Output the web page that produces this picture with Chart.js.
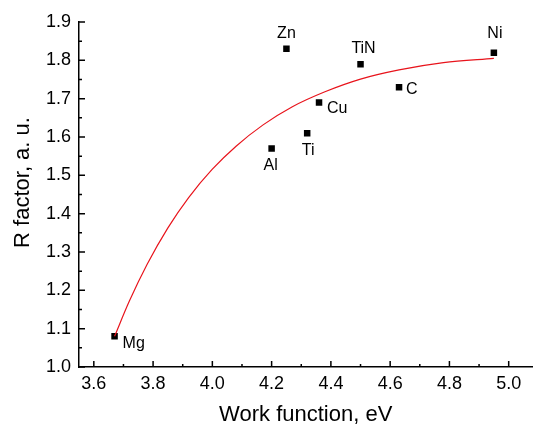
<!DOCTYPE html>
<html>
<head>
<meta charset="utf-8">
<script src="https://cdn.jsdelivr.net/npm/chart.js@4"></script>
<style>
  html, body { margin: 0; padding: 0; background: #fff; }
  #wrap { width: 537px; height: 426px; }
</style>
</head>
<body>
<div id="wrap"><canvas id="rChart" width="537" height="426"></canvas></div>
<script>
const metals = ['Mg', 'Al', 'Ti', 'Cu', 'Zn', 'TiN', 'C', 'Ni'];
const workFunction = [3.67, 4.20, 4.32, 4.36, 4.25, 4.50, 4.63, 4.95];
const rFactor = [1.08, 1.57, 1.61, 1.69, 1.83, 1.79, 1.73, 1.82];

// fitted curve
const fitWork = [3.67, 3.72, 3.78, 3.85, 3.92, 4.00, 4.08, 4.17, 4.27, 4.38, 4.50, 4.63, 4.78, 4.95];
const fitR = [1.08, 1.172, 1.268, 1.363, 1.442, 1.516, 1.576, 1.631, 1.679, 1.718, 1.751, 1.775, 1.794, 1.805];

const xTicks = [3.6, 3.8, 4.0, 4.2, 4.4, 4.6, 4.8, 5.0];
const yTicks = [1.0, 1.1, 1.2, 1.3, 1.4, 1.5, 1.6, 1.7, 1.8, 1.9];

// where each label sits relative to its point
const labelPlace = [
	{dx: 8, dy: 7, align: 'left'},
	{dx: -1, dy: 17, align: 'center'},
	{dx: 1, dy: 17, align: 'center'},
	{dx: 8, dy: 6, align: 'left'},
	{dx: 0, dy: -15, align: 'center'},
	{dx: 3, dy: -16, align: 'center'},
	{dx: 7, dy: 2, align: 'left'},
	{dx: 1, dy: -19, align: 'center'}
];

const FONT = '"Liberation Sans", Arial, sans-serif';

const pointLabels = {
	id: 'pointLabels',
	afterDatasetsDraw(chart) {
		const ctx = chart.ctx;
		const meta = chart.getDatasetMeta(1);
		ctx.save();
		ctx.font = '16px ' + FONT;
		ctx.fillStyle = '#000';
		ctx.textBaseline = 'middle';
		meta.data.forEach((pt, i) => {
			const p = labelPlace[i];
			ctx.textAlign = p.align;
			ctx.fillText(metals[i], pt.x + p.dx, pt.y + p.dy);
		});
		ctx.restore();
	}
};

// y title sits a bit above the middle of the plot in the original
const yTitle = {
	id: 'yTitle',
	afterDraw(chart) {
		const ctx = chart.ctx;
		const a = chart.chartArea;
		ctx.save();
		ctx.translate(23, (a.top + a.bottom) / 2 - 12);
		ctx.rotate(-Math.PI / 2);
		ctx.font = '22px ' + FONT;
		ctx.fillStyle = '#000';
		ctx.textAlign = 'center';
		ctx.textBaseline = 'middle';
		ctx.fillText('R factor, a. u.', 0, 0);
		ctx.restore();
	}
};

// Origin style ticks pointing into the plot
const innerTicks = {
	id: 'innerTicks',
	afterDraw(chart) {
		const ctx = chart.ctx;
		const xs = chart.scales.x, ys = chart.scales.y;
		const bottom = chart.chartArea.bottom, left = chart.chartArea.left;
		ctx.save();
		ctx.strokeStyle = '#000';
		ctx.lineWidth = 1.5;
		ctx.beginPath();
		xTicks.forEach((v, i) => {
			const x = xs.getPixelForValue(v);
			ctx.moveTo(x, bottom); ctx.lineTo(x, bottom - 6);
			if (i < xTicks.length - 1) {
				const xm = xs.getPixelForValue((v + xTicks[i + 1]) / 2);
				ctx.moveTo(xm, bottom); ctx.lineTo(xm, bottom - 3);
			}
		});
		yTicks.forEach((v, i) => {
			const y = ys.getPixelForValue(v);
			ctx.moveTo(left, y); ctx.lineTo(left + 6, y);
			if (i < yTicks.length - 1) {
				const ym = ys.getPixelForValue((v + yTicks[i + 1]) / 2);
				ctx.moveTo(left, ym); ctx.lineTo(left + 3, ym);
			}
		});
		ctx.stroke();
		ctx.restore();
	}
};

new Chart(document.getElementById('rChart'), {
	type: 'scatter',
	data: {
		datasets: [
			{
				label: 'fit',
				type: 'line',
				data: fitWork.map((x, i) => ({x: x, y: fitR[i]})),
				borderColor: '#e8141c',
				borderWidth: 1.2,
				pointRadius: 0,
				fill: false,
				cubicInterpolationMode: 'monotone'
			},
			{
				label: 'R factor',
				data: workFunction.map((x, i) => ({x: x, y: rFactor[i]})),
				pointStyle: 'rect',
				pointRadius: 4.6,
				backgroundColor: '#000',
				borderWidth: 0
			}
		]
	},
	options: {
		responsive: false,
		animation: false,
		layout: {padding: {top: 22, right: 0, bottom: 0, left: 0}},
		plugins: {
			legend: {display: false},
			tooltip: {enabled: false}
		},
		scales: {
			x: {
				type: 'linear',
				min: 3.55,
				max: 5.08,
				afterBuildTicks: (s) => { s.ticks = xTicks.map(v => ({value: v})); },
				afterFit: (s) => { s.height = 59; },
				grid: {display: false, drawTicks: false},
				border: {display: true, color: '#000', width: 1.5},
				ticks: {
					padding: 6,
					color: '#000',
					font: {family: FONT, size: 18},
					callback: (v) => v.toFixed(1)
				},
				title: {
					display: true,
					text: 'Work function, eV',
					color: '#000',
					font: {family: FONT, size: 22, lineHeight: 1.0},
					padding: {top: 0, bottom: 0}
				}
			},
			y: {
				min: 1.0,
				max: 1.9,
				afterBuildTicks: (s) => { s.ticks = yTicks.map(v => ({value: v})); },
				afterFit: (s) => { s.width = 79; },
				grid: {display: false, drawTicks: false},
				border: {display: true, color: '#000', width: 1.5},
				ticks: {
					padding: 8,
					color: '#000',
					font: {family: FONT, size: 18},
					callback: (v) => v.toFixed(1)
				}
			}
		}
	},
	plugins: [pointLabels, yTitle, innerTicks]
});
</script>
</body>
</html>
